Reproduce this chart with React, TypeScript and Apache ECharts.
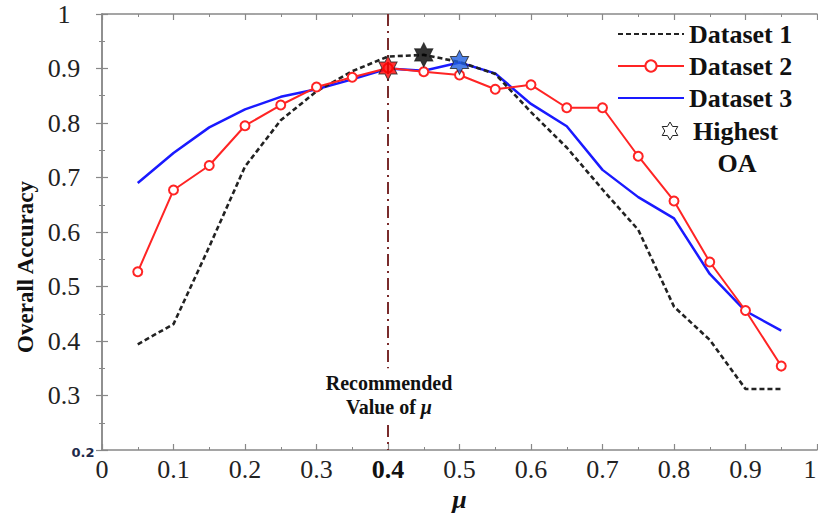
import React, { useEffect, useRef } from "react";
import * as echarts from "echarts";

// ---- data ----
const MU = [0.05, 0.1, 0.15, 0.2, 0.25, 0.3, 0.35, 0.4, 0.45, 0.5, 0.55, 0.6, 0.65, 0.7, 0.75, 0.8, 0.85, 0.9, 0.95];
const DATASET_1 = [0.394, 0.431, 0.573, 0.72, 0.805, 0.858, 0.895, 0.922, 0.925, 0.912, 0.89, 0.82, 0.755, 0.678, 0.604, 0.463, 0.402, 0.312, 0.312];
const DATASET_2 = [0.527, 0.677, 0.722, 0.795, 0.833, 0.866, 0.884, 0.901, 0.894, 0.888, 0.862, 0.87, 0.828, 0.828, 0.739, 0.657, 0.545, 0.456, 0.354];
const DATASET_3 = [0.69, 0.745, 0.792, 0.825, 0.848, 0.862, 0.88, 0.9, 0.896, 0.911, 0.891, 0.835, 0.794, 0.714, 0.664, 0.625, 0.523, 0.455, 0.419];
const SERIES_NAMES = ["Dataset 1", "Dataset 2", "Dataset 3"];
const RECOMMENDED_MU = 0.4;
const X_MIN = 0, X_MAX = 1, X_STEP = 0.1;
const Y_MIN = 0.2, Y_MAX = 1, Y_STEP = 0.1;
const GAP_TOP = 0.35, GAP_BOTTOM = 0.246; // where the recommended line is interrupted by its label

const FONT = "'Liberation Serif', 'Times New Roman', serif";
const HEX = "path://M100,0 L128.87,50 L186.6,50 L157.7,100 L186.6,150 L128.87,150 L100,200 L71.13,150 L13.4,150 L42.3,100 L13.4,50 L71.13,50 Z";

function hexPoints(cx: number, cy: number, R: number) {
  const pts: number[][] = [];
  for (let k = 0; k < 12; k++) {
    const ang = (-90 + k * 30) * Math.PI / 180;
    const r = k % 2 === 0 ? R : R / Math.sqrt(3);
    pts.push([cx + r * Math.cos(ang), cy + r * Math.sin(ang)]);
  }
  return pts;
}

function argmax(a: number[]) {
  let b = 0;
  a.forEach((v, i) => { if (v > a[b]) b = i; });
  return b;
}

export default function App() {
  const ref = useRef<HTMLDivElement>(null);
  useEffect(() => {
    if (!ref.current) return;
    const chart = echarts.init(ref.current, undefined, { renderer: "svg" });
    const sets = [DATASET_1, DATASET_2, DATASET_3];
    const starColors = ["#000000", "#ff0000", "#1f5fe0"];
    const stars = sets.map((s, k) => {
      const i = argmax(s);
      return { value: [MU[i], s[i]], itemStyle: { color: starColors[k] } };
    });
    const axisLine = { show: true, lineStyle: { color: "#888", width: 1.5 } };
    const tick = { show: true, inside: true, length: 6, lineStyle: { color: "#888", width: 1.2 } };
    const minor = { show: true, splitNumber: 2, length: 3, lineStyle: { color: "#888", width: 1 } };
    const fmt1 = (v: number) => String(Number(v.toFixed(1)));

    chart.setOption({
      animation: false,
      backgroundColor: "#fff",
      grid: { left: 102, right: 1, top: 14, bottom: 65, show: false, containLabel: false, outerBoundsMode: "none" },
      legend: {
        data: [
          { name: SERIES_NAMES[0], itemStyle: { opacity: 0 } },
          { name: SERIES_NAMES[1] },
          { name: SERIES_NAMES[2], itemStyle: { opacity: 0 } },
        ],
        orient: "vertical",
        left: 612,
        top: 16,
        itemWidth: 66,
        itemHeight: 14,
        itemGap: 6,
        textStyle: { fontFamily: FONT, fontWeight: "bold", fontSize: 26, color: "#111", lineHeight: 26 },
      },
      xAxis: [
        {
          type: "value", min: X_MIN, max: X_MAX, interval: X_STEP,
          axisLine, axisTick: tick, minorTick: minor, splitLine: { show: false },
          axisLabel: {
            margin: 6, showMaxLabel: true,
            formatter: (v: number) =>
              Math.abs(v - RECOMMENDED_MU) < 1e-9 ? `{b|${fmt1(v)}}` : Math.abs(v - X_MAX) < 1e-9 ? `{e|${fmt1(v)}}` : `{n|${fmt1(v)}}`,
            rich: {
              n: { fontFamily: FONT, fontSize: 26, color: "#222" },
              e: { fontFamily: FONT, fontSize: 26, color: "#222", padding: [0, 14, 0, 0] },
              b: { fontFamily: FONT, fontSize: 26, color: "#111", fontWeight: "bold" },
            },
          },
          name: "μ", nameLocation: "middle", nameGap: 31,
          nameTextStyle: { fontFamily: FONT, fontSize: 26, fontWeight: "bold", fontStyle: "italic", color: "#111" },
        },
        {
          type: "value", position: "top", min: X_MIN, max: X_MAX, interval: X_STEP,
          axisLine, axisTick: tick, minorTick: minor, splitLine: { show: false }, axisLabel: { show: false },
        },
      ],
      yAxis: [
        {
          type: "value", min: Y_MIN, max: Y_MAX, interval: Y_STEP,
          axisLine, axisTick: tick, minorTick: minor, splitLine: { show: false },
          axisLabel: {
            align: "center", margin: 38, showMaxLabel: true, showMinLabel: true,
            formatter: (v: number) => (Math.abs(v - Y_MIN) < 1e-9 ? `{s|${fmt1(v)}}` : `{n|${fmt1(v)}}`),
            rich: {
              n: { fontFamily: FONT, fontSize: 26, color: "#222" },
              s: { fontFamily: "'DejaVu Sans', sans-serif", fontSize: 13, fontWeight: "bold", color: "#1e2a4a", padding: [4, 0, 0, 38] },
            },
          },
          name: "Overall Accuracy", nameLocation: "middle", nameGap: 62,
          nameTextStyle: { fontFamily: FONT, fontSize: 23, fontWeight: "bold", color: "#111", padding: [0, 70, 0, 0] },
        },
        {
          type: "value", position: "right", min: Y_MIN, max: Y_MAX, interval: Y_STEP,
          axisLine, axisTick: tick, minorTick: minor, splitLine: { show: false }, axisLabel: { show: false },
        },
      ],
      series: [
        {
          name: SERIES_NAMES[0], type: "line", data: MU.map((x, i) => [x, DATASET_1[i]]),
          symbol: "none", lineStyle: { color: "#222", width: 2.6, type: [5, 3] }, itemStyle: { color: "#222" }, z: 3,
        },
        {
          name: SERIES_NAMES[1], type: "line", data: MU.map((x, i) => [x, DATASET_2[i]]),
          symbol: "emptyCircle", symbolSize: 9, showSymbol: true,
          lineStyle: { color: "#ff2424", width: 2 }, itemStyle: { color: "#ff2424", borderWidth: 1.8 }, z: 4,
        },
        {
          name: SERIES_NAMES[2], type: "line", data: MU.map((x, i) => [x, DATASET_3[i]]),
          symbol: "none", lineStyle: { color: "#1a1aff", width: 2.5 }, itemStyle: { color: "#1a1aff" }, z: 2,
        },
        {
          name: "recommended", type: "line", data: [], silent: true,
          markLine: {
            silent: true, symbol: ["none", "none"], label: { show: false },
            lineStyle: { color: "#7a2c2c", width: 2, type: [12, 5, 2, 5] },
            data: [
              [{ coord: [RECOMMENDED_MU, Y_MAX] }, { coord: [RECOMMENDED_MU, GAP_TOP] }],
              [{ coord: [RECOMMENDED_MU, GAP_BOTTOM] }, { coord: [RECOMMENDED_MU, Y_MIN] }],
            ],
          },
          z: 1,
        },
        {
          name: "Highest OA", type: "scatter", data: stars, symbol: HEX, symbolSize: [21, 24], symbolKeepAspect: true,
          itemStyle: { borderColor: "#222", borderWidth: 1 }, z: 10,
        },
      ],
      graphic: [
        {
          type: "polygon", shape: { points: hexPoints(670, 131, 9) },
          style: { fill: "#fff", stroke: "#222", lineWidth: 1 }, z: 20,
        },
        {
          type: "text", x: 693, y: 131, z: 20,
          style: { text: "Highest", font: `bold 26px ${FONT}`, fill: "#111", align: "left", verticalAlign: "middle" },
        },
        {
          type: "text", x: 737, y: 163, z: 20,
          style: { text: "OA", font: `bold 26px ${FONT}`, fill: "#111", align: "center", verticalAlign: "middle" },
        },
        {
          type: "text", x: 389, y: 395, z: 20,
          style: {
            text: "{a|Recommended}\n{a|Value of }{m|μ}",
            align: "center", verticalAlign: "middle", fill: "#111",
            rich: {
              a: { fontFamily: FONT, fontSize: 20, fontWeight: "bold", lineHeight: 24, fill: "#111" },
              m: { fontFamily: FONT, fontSize: 20, fontWeight: "bold", fontStyle: "italic", lineHeight: 24, fill: "#111" },
            },
          },
        },
      ],
    });
    return () => chart.dispose();
  }, []);
  return <div ref={ref} style={{ position: "fixed", left: 0, top: 0, width: 818, height: 515, background: "#fff" }} />;
}
